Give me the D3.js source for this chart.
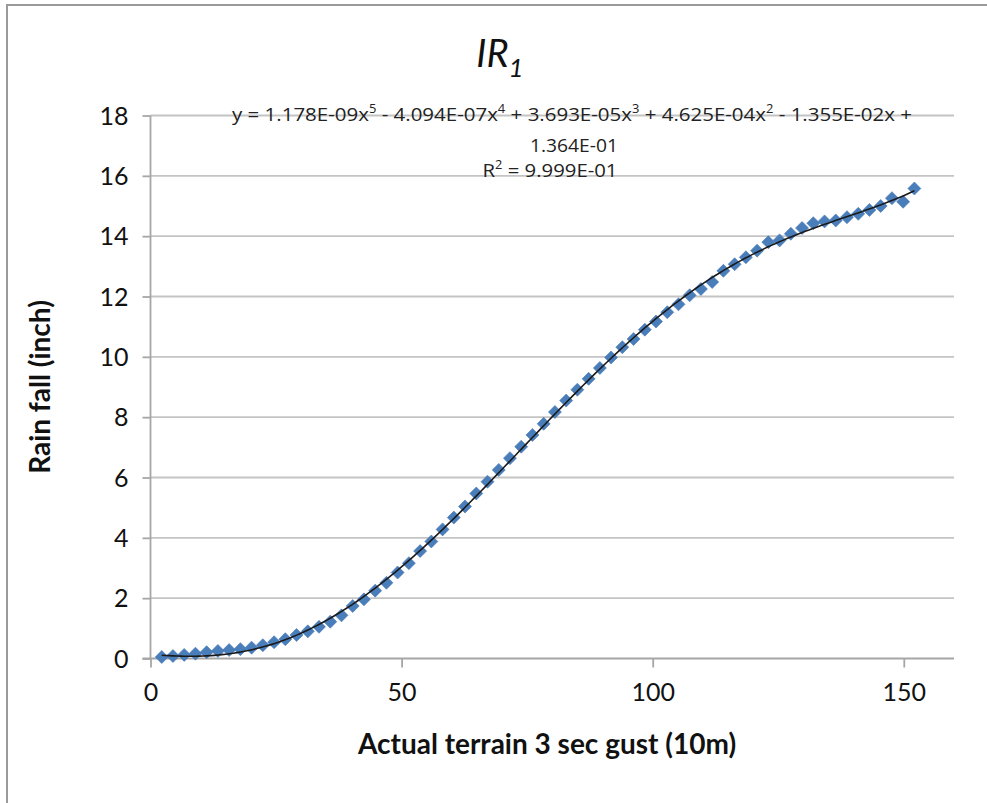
<!DOCTYPE html>
<html>
<head>
<meta charset="utf-8">
<script src="https://cdn.jsdelivr.net/npm/d3@7"></script>
<style>
  html, body { margin: 0; padding: 0; background: #fff; }
  svg { display: block; }
</style>
</head>
<body>
<svg id="chart" width="987" height="803"></svg>
<script>
// ---- data ----
const gustX = [2.24, 4.47, 6.71, 8.95, 11.18, 13.42, 15.66, 17.9, 20.13, 22.37,
  24.61, 26.84, 29.08, 31.32, 33.55, 35.79, 38.03, 40.26, 42.5, 44.74,
  46.98, 49.21, 51.45, 53.69, 55.92, 58.16, 60.4, 62.63, 64.87, 67.11,
  69.35, 71.58, 73.82, 76.06, 78.29, 80.53, 82.77, 85.0, 87.24, 89.48,
  91.71, 93.95, 96.19, 98.43, 100.66, 102.9, 105.14, 107.37, 109.61, 111.85,
  114.08, 116.32, 118.56, 120.79, 123.03, 125.27, 127.51, 129.74, 131.98, 134.22,
  136.45, 138.69, 140.93, 143.16, 145.4, 147.64, 149.87, 152.11];
const rainY = [0.05, 0.08, 0.12, 0.16, 0.21, 0.25, 0.28, 0.31, 0.36, 0.44,
  0.54, 0.64, 0.78, 0.90, 1.05, 1.22, 1.43, 1.74, 1.96, 2.25,
  2.51, 2.85, 3.16, 3.56, 3.88, 4.28, 4.67, 5.04, 5.47, 5.86,
  6.25, 6.64, 7.02, 7.41, 7.78, 8.17, 8.55, 8.91, 9.27, 9.63,
  9.98, 10.32, 10.59, 10.90, 11.17, 11.48, 11.74, 12.04, 12.25, 12.48,
  12.85, 13.07, 13.30, 13.52, 13.80, 13.86, 14.08, 14.27, 14.43, 14.49,
  14.52, 14.63, 14.74, 14.87, 15.00, 15.26, 15.14, 15.58];
// trendline coefficients as printed on the chart (x^5 ... x^0)
const trendCoef = [1.178E-09, -4.094E-07, 3.693E-05, 4.625E-04, -1.355E-02, 1.364E-01];
const xTicks = [0, 50, 100, 150];
const yTicks = [0, 2, 4, 6, 8, 10, 12, 14, 16, 18];
const titleMain = "IR";
const titleSub = "1";
const xTitle = "Actual terrain 3 sec gust (10m)";
const yTitle = "Rain fall (inch)";
const eqLine1 = [["y = 1.178E-09x", "5"], [" - 4.094E-07x", "4"], [" + 3.693E-05x", "3"],
  [" + 4.625E-04x", "2"], [" - 1.355E-02x +", null]];
const eqLine2 = "1.364E-01";
const eqLine3 = [["R", "2"], [" = 9.999E-01", null]];

// ---- layout ----
const svg = d3.select("#chart");
const FONT = "Lato, 'Open Sans', sans-serif";
const x = d3.scaleLinear().domain([0, 160]).range([150.5, 954]);
const y = d3.scaleLinear().domain([0, 18]).range([658.5, 115.5]);

// outer frame (top & left edges visible)
svg.append("path")
  .attr("d", "M7,803 L7,5 L987,5")
  .attr("fill", "none").attr("stroke", "#9a9a9a").attr("stroke-width", 2);

// gridlines
svg.append("g").selectAll("line").data(yTicks.filter(d => d > 0)).join("line")
  .attr("x1", x(0)).attr("x2", x(160))
  .attr("y1", d => y(d)).attr("y2", d => y(d))
  .attr("stroke", "#c4c4c4").attr("stroke-width", 1.8);

// y axis
const yAxis = d3.axisLeft(y).tickValues(yTicks).tickSize(8).tickPadding(14)
  .tickFormat(d3.format("d"));
const gy = svg.append("g").attr("transform", `translate(${x(0)},0)`).call(yAxis);
gy.select(".domain").attr("stroke", "#a6a6a6").attr("stroke-width", 1.8)
  .attr("d", `M0,${y(18)}V${y(0)}`);
gy.selectAll(".tick line").attr("stroke", "#a6a6a6").attr("stroke-width", 1.8);
gy.selectAll(".tick text").attr("font-family", FONT).attr("font-size", 25)
  .attr("fill", "#111").attr("dy", "0.35em");

// x axis
const xAxis = d3.axisBottom(x).tickValues(xTicks).tickSize(9).tickPadding(16)
  .tickFormat(d3.format("d"));
const gx = svg.append("g").attr("transform", `translate(0,${y(0)})`).call(xAxis);
gx.select(".domain").attr("stroke", "#a6a6a6").attr("stroke-width", 1.8)
  .attr("d", `M${x(0) - 8},0H${x(160)}`);
gx.selectAll(".tick line").attr("stroke", "#a6a6a6").attr("stroke-width", 1.8);
gx.selectAll(".tick text").attr("font-family", FONT).attr("font-size", 25)
  .attr("fill", "#111");

// data points (square diamonds)
const data = gustX.map((gx_, i) => ({ x: gx_, y: rainY[i] }));
const r = 6.5;
svg.append("g").selectAll("path").data(data).join("path")
  .attr("d", `M0,${-r}L${r},0L0,${r}L${-r},0Z`)
  .attr("transform", d => `translate(${x(d.x)},${y(d.y)})`)
  .attr("fill", "#4a7ebb").attr("stroke", "#4576b3").attr("stroke-width", 0.6);

// polynomial trendline over the data range
const poly = v => trendCoef.reduce((acc, c) => acc * v + c, 0);
const xs = d3.range(0, 201).map(i => gustX[0] + (gustX[gustX.length - 1] - gustX[0]) * i / 200);
svg.append("path")
  .datum(xs)
  .attr("d", d3.line().x(v => x(v)).y(v => y(poly(v))))
  .attr("fill", "none").attr("stroke", "#1a1a1a").attr("stroke-width", 1.6);

// title
const t = svg.append("text").attr("x", 500).attr("y", 67).attr("text-anchor", "middle")
  .attr("font-family", FONT).attr("font-style", "italic").attr("font-size", 38).attr("fill", "#111");
t.append("tspan").text(titleMain);
t.append("tspan").attr("font-size", 26).attr("dy", 10).text(titleSub);

// trendline equation
const eq = svg.append("g").attr("font-family", "'Open Sans', sans-serif")
  .attr("font-size", 19).attr("fill", "#222");
function richText(sel, parts) {
  let shift = 0;
  parts.forEach(([base, sup]) => {
    sel.append("tspan").attr("dy", shift).text(base);
    shift = 0;
    if (sup) {
      sel.append("tspan").attr("font-size", 12).attr("dy", -8).text(sup);
      shift = 8;
    }
  });
}
const l1 = eq.append("text").attr("x", 572).attr("y", 121).attr("text-anchor", "middle")
  .attr("textLength", 680).attr("lengthAdjust", "spacingAndGlyphs");
richText(l1, eqLine1);
eq.append("text").attr("x", 574).attr("y", 152).attr("text-anchor", "middle")
  .attr("textLength", 88).attr("lengthAdjust", "spacingAndGlyphs").text(eqLine2);
const l3 = eq.append("text").attr("x", 550).attr("y", 177).attr("text-anchor", "middle")
  .attr("textLength", 135).attr("lengthAdjust", "spacingAndGlyphs");
richText(l3, eqLine3);

// axis titles
svg.append("text").attr("x", 547).attr("y", 754).attr("text-anchor", "middle")
  .attr("font-family", FONT).attr("font-weight", "bold").attr("font-size", 28).attr("fill", "#111")
  .text(xTitle);
svg.append("text").attr("transform", "translate(50,387) rotate(-90)").attr("text-anchor", "middle")
  .attr("font-family", FONT).attr("font-weight", "bold").attr("font-size", 28).attr("fill", "#111")
  .text(yTitle);
</script>
</body>
</html>
